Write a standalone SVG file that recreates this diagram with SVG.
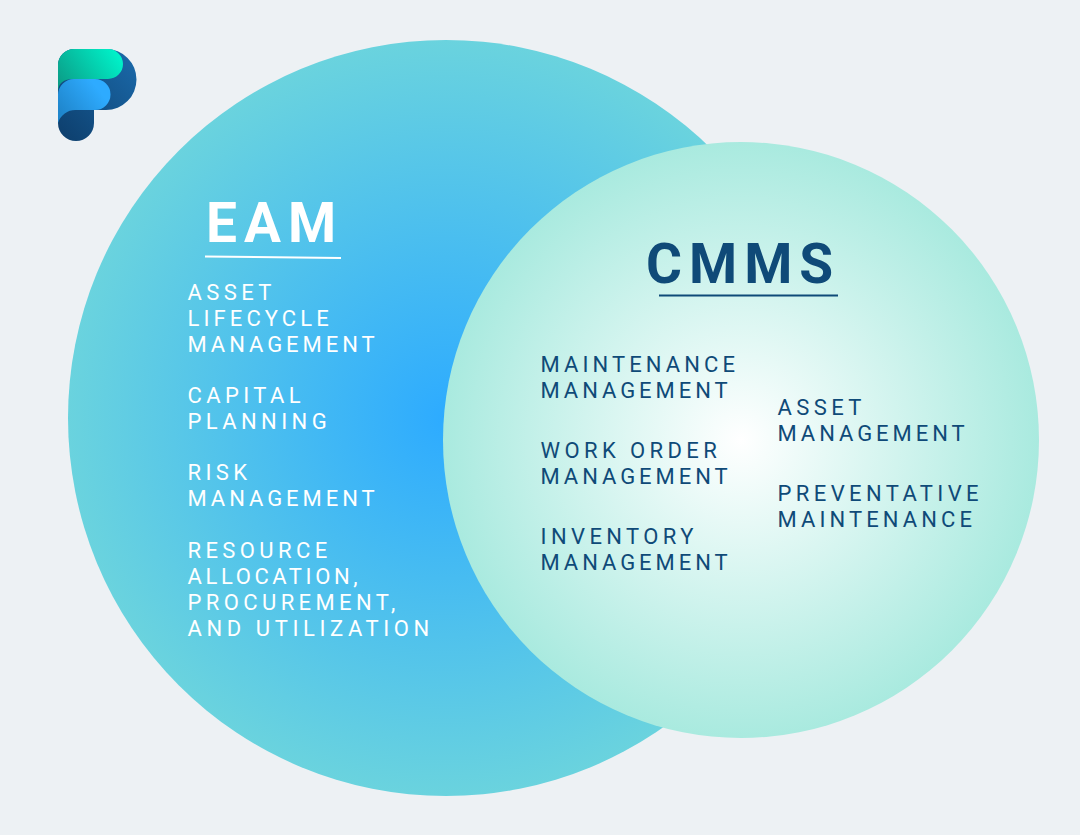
<svg xmlns="http://www.w3.org/2000/svg" width="1080" height="835" viewBox="0 0 1080 835">
<style>
text{font-family:Roboto,"Liberation Sans",sans-serif}
.w{fill:#fff}.n{fill:#0f4a78}
.b{font-size:22px;letter-spacing:4.4px}
.m{letter-spacing:3.95px}
.l{letter-spacing:4.1px}
.a{letter-spacing:3.6px}
.h{font-size:55px;font-weight:700;letter-spacing:7px}
</style>
<defs>
<radialGradient id="ge" gradientUnits="userSpaceOnUse" cx="446" cy="418" r="378"><stop offset="0" stop-color="#2dabff"/><stop offset="1" stop-color="#6ad3de"/></radialGradient>
<radialGradient id="gc" gradientUnits="userSpaceOnUse" cx="741" cy="440" r="298"><stop offset="0" stop-color="#ffffff"/><stop offset="1" stop-color="#a9eadf"/></radialGradient>
<linearGradient id="l1" gradientUnits="userSpaceOnUse" x1="60" y1="130" x2="135" y2="60"><stop offset="0" stop-color="#0e4170"/><stop offset="1" stop-color="#1a68a8"/></linearGradient>
<linearGradient id="l2" gradientUnits="userSpaceOnUse" x1="62" y1="90" x2="115" y2="52"><stop offset="0" stop-color="#0b9c86"/><stop offset="1" stop-color="#00f0c8"/></linearGradient>
<linearGradient id="l3" gradientUnits="userSpaceOnUse" x1="60" y1="112" x2="95" y2="85"><stop offset="0" stop-color="#1f86cc"/><stop offset="1" stop-color="#2eabff"/></linearGradient>
</defs>
<rect width="1080" height="835" fill="#edf1f4"/>
<g id="logo">
<path d="M58 65A16 16 0 0 1 74 49H106A30.500 30.500 0 0 1 106 110H94V123A18 18 0 0 1 58 123Z" fill="url(#l1)"/>
<path d="M58 65A16 16 0 0 1 74 49H108A15 15 0 0 1 108 79H74Q58 79 58 92Z" fill="url(#l2)"/>
<path d="M58 95A16 16 0 0 1 74 79H95A15.500 15.500 0 0 1 95 110H76A18 18 0 0 0 58 123Z" fill="url(#l3)"/>
</g>
<g id="eam">
<circle cx="446" cy="418" r="378" fill="url(#ge)"/>
<text class="h w" x="206" y="241.500">EAM</text>
<path d="M205 256.500L341 258" stroke="#fff" stroke-width="2" fill="none"/>
<g class="b w">
<text x="187.500" y="299.500">ASSET</text><text class="l" x="187.500" y="325.500">LIFECYCLE</text><text class="m" x="187.500" y="351.500">MANAGEMENT</text>
<text x="187.500" y="403">CAPITAL</text><text x="187.500" y="429">PLANNING</text>
<text x="187.500" y="480">RISK</text><text class="m" x="187.500" y="506">MANAGEMENT</text>
<text x="187.500" y="557.500">RESOURCE</text><text class="a" x="187.500" y="583.500">ALLOCATION,</text><text x="187.500" y="609.500">PROCUREMENT,</text><text style="letter-spacing:4.6px" x="187.500" y="636">AND UTILIZATION</text>
</g>
</g>
<g id="cmms">
<circle cx="741" cy="440" r="298" fill="url(#gc)"/>
<text class="h n" x="646" y="282.500">CMMS</text>
<path d="M659 295.500H838" stroke="#0f4a78" stroke-width="2" fill="none"/>
<g class="b n">
<text class="l" x="540.500" y="372">MAINTENANCE</text><text class="m" x="540.500" y="398">MANAGEMENT</text>
<text x="540.500" y="458">WORK ORDER</text><text class="m" x="540.500" y="484">MANAGEMENT</text>
<text x="540.500" y="544">INVENTORY</text><text class="m" x="540.500" y="570">MANAGEMENT</text>
<text x="777.500" y="415">ASSET</text><text class="m" x="777.500" y="441">MANAGEMENT</text>
<text x="777.500" y="501">PREVENTATIVE</text><text class="l" x="777.500" y="527">MAINTENANCE</text>
</g>
</g>
</svg>
